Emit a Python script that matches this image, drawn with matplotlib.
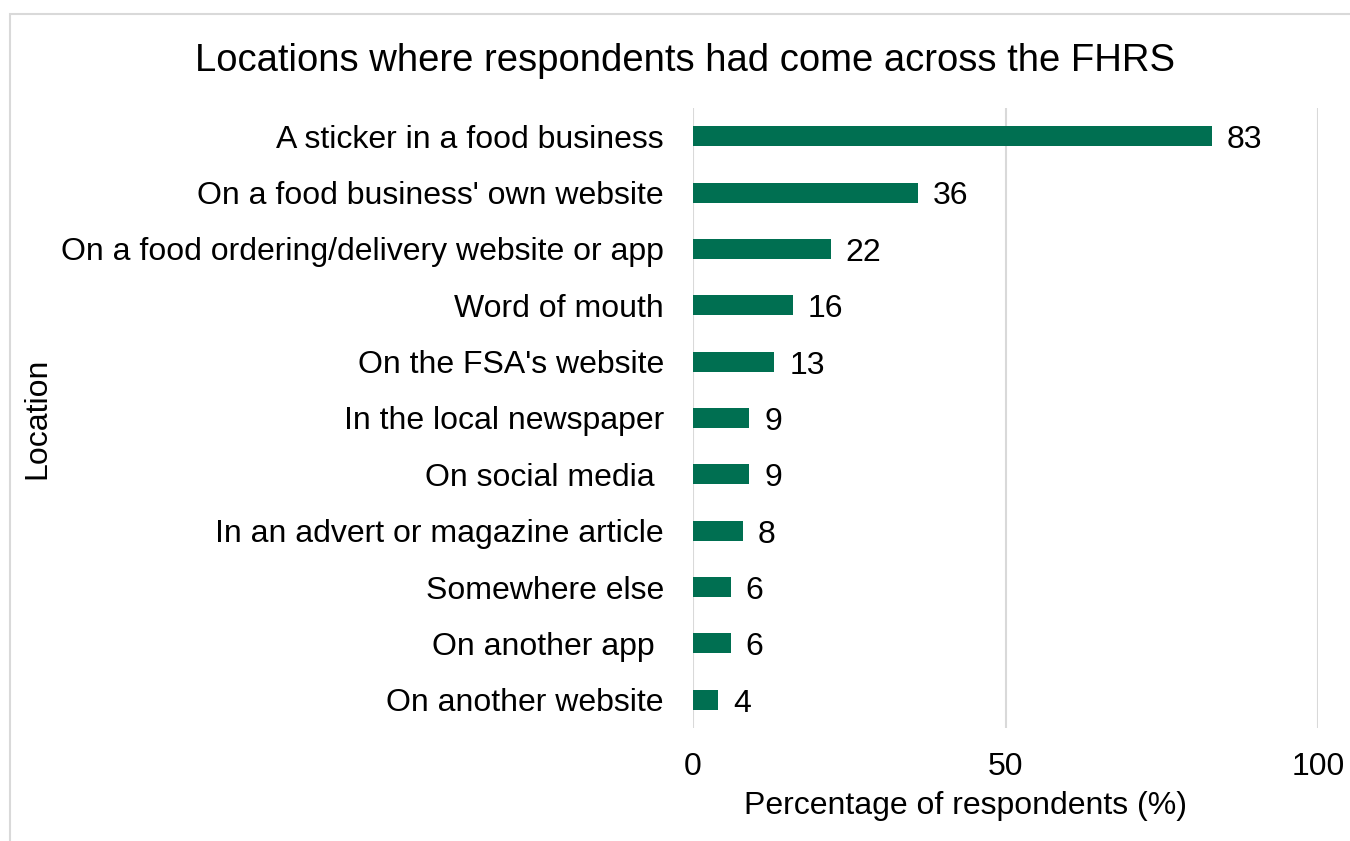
import matplotlib
matplotlib.use("Agg")
import matplotlib.pyplot as plt
from matplotlib.patches import Rectangle

plt.rcParams["font.family"] = ["Liberation Sans", "DejaVu Sans"]

locations = [
    "A sticker in a food business",
    "On a food business' own website",
    "On a food ordering/delivery website or app",
    "Word of mouth",
    "On the FSA's website",
    "In the local newspaper",
    "On social media ",
    "In an advert or magazine article",
    "Somewhere else",
    "On another app ",
    "On another website",
]
percentages = [83, 36, 22, 16, 13, 9, 9, 8, 6, 6, 4]

BAR_COLOR = "#006F51"
GRID_COLOR = "#D9D9D9"
FS = 23

fig = plt.figure(figsize=(13.5, 8.41), dpi=100)
fig.patch.set_facecolor("white")

# thin grey frame around the chart area (runs off the right and bottom edges)
fig.patches.append(Rectangle((10 / 1350, -0.1), 2, 1.1 - 14 / 841, transform=fig.transFigure,
                             fill=False, edgecolor=GRID_COLOR, linewidth=1.5))

ax = fig.add_axes([693 / 1350, 1 - 728 / 841, 625 / 1350, 620 / 841])

y = range(len(locations))
bars = ax.barh(y, percentages, height=0.355, color=BAR_COLOR, zorder=3)
for bar, val in zip(bars, percentages):
    ax.text(bar.get_width() + 2.4, bar.get_y() + bar.get_height() / 2 + 0.07, str(val),
            va="center", ha="left", fontsize=FS, color="black")

ax.set_ylim(len(locations) - 0.5, -0.5)
ax.set_xlim(0, 100)
ax.set_xticks([0, 50, 100])
ax.set_yticks(list(y))
ax.set_yticklabels(locations, fontsize=FS)
ax.tick_params(axis="x", labelsize=FS, length=0, pad=17)
ax.tick_params(axis="y", length=0, pad=21)

ax.grid(axis="x", color=GRID_COLOR, linewidth=1.5, zorder=0)
for side in ["top", "right", "bottom", "left"]:
    ax.spines[side].set_visible(False)

fig.text(965 / 1350, 1 - 806 / 841, "Percentage of respondents (%)", ha="center", va="center", fontsize=FS)
fig.text(37 / 1350, 1 - 418 / 841, "Location", ha="center", va="center", rotation=90, fontsize=FS)
fig.text(685 / 1350, 1 - 61 / 841, "Locations where respondents had come across the FHRS",
         ha="center", va="center", fontsize=27.5)

fig.savefig("out.png", dpi=100, facecolor="white")
